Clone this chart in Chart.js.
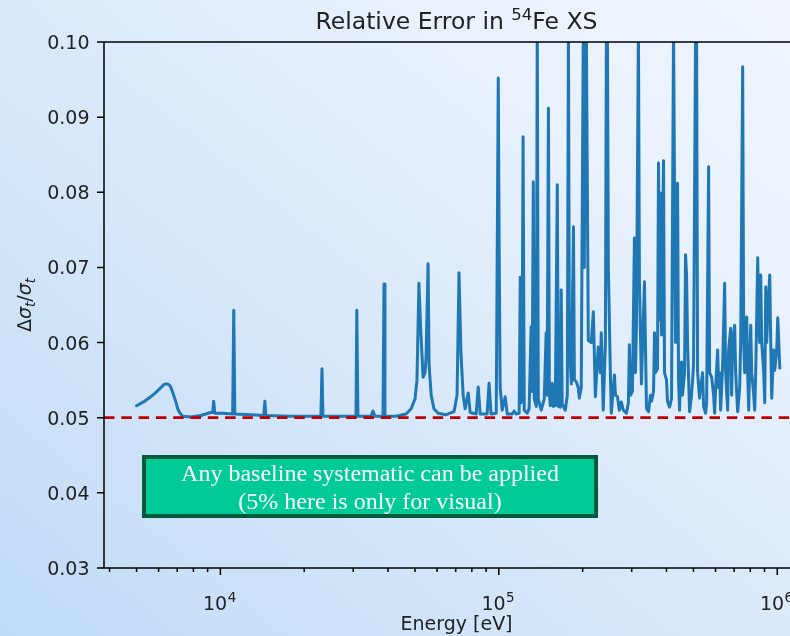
<!DOCTYPE html>
<html>
<head>
<meta charset="utf-8">
<script src="https://cdn.jsdelivr.net/npm/chart.js@4.4.1/dist/chart.umd.min.js"></script>
<style>
html,body{margin:0;padding:0;width:790px;height:636px;overflow:hidden;}
body{background:linear-gradient(to top right,#c1dbf6 0%,#d8e8fa 45%,#e8f1fc 75%,#f0f5fd 100%);}
#c{position:absolute;left:0;top:0;}
</style>
</head>
<body>
<canvas id="c" width="830" height="636" style="width:830px;height:636px"></canvas>
<script>
// ---- data (energy in eV, relative error of total cross section) ----
const energies = [
5000,5170,5300,5480,5620,5805,6000,6152,6255,6360,6466,6574,6630,6740,6910,7025,7140,7320,
7820,8500,9230,9390,9460,9550,10190,11070,11170,11270,12860,
14320,14450,14560,17910,22960,23170,23350,30690,30900,31190,34750,35320,35890,38370,38700,39000,42750,46450,48420,50000,
50820,51650,52480,53460,54330,54780,55720,56180,57150,58480,60530,64700,69050,70800,71940,73110,74470,75670,77620,78890,
82920,84330,85700,90780,92260,93760,97900,99540,100200,101100,102800,105400,107200,111700,113500,115300,118300,119400,120300,121300,
122200,123400,126500,128500,130600,131700,133000,134100,136300,137400,138600,142000,145600,147900,149100,150700,151900,153100,155600,156900,
159500,162200,163500,166200,167500,168900,173300,176200,177800,179200,182200,185400,186800,189700,192900,194500,197700,201100,202800,204500,
206200,209600,214800,218500,222200,227500,231400,233300,237100,241400,243400,245400,247400,251500,253500,260100,262300,266700,271000,275400,
279900,287300,292000,294400,296900,301900,306900,309500,312000,317200,319900,325200,333400,339100,344800,350500,353500,359400,362300,365300,
371400,374500,377600,380700,383900,390300,393600,400200,403500,410300,417100,424100,427600,431200,438400,442000,445700,449400,453100,456900,
464500,468400,472300,476200,484200,492200,500400,508900,513100,517400,526000,530400,539300,543800,552900,557500,566800,571500,581100,590700,
595700,600600,610700,615800,620900,626100,636500,647100,652500,663400,668900,680100,685800,691500,703000,708900,720700,732800,738900,751200,
757500,763800,776600,783000,789600,796100,802800,809400,823000,829800,836700,850700,857800,864900,872100,879300,894000,901500,909000,916500,
924200,939600,947400,955300,963200,971200,979300,995700,1004000,1021000
];
const relErr = [
0.0516,0.0519,0.0521,0.0525,0.0528,0.0532,0.0537,0.0541,0.0544,0.0545,0.0545,0.0543,0.0541,0.0534,0.0522,0.0512,0.0507,0.0502,
0.0501,0.0503,0.0507,0.0507,0.0522,0.0506,0.0506,0.0505,0.0643,0.0505,0.0504,
0.0503,0.0522,0.0503,0.0502,0.0502,0.0565,0.0502,0.0502,0.0643,0.0502,0.0502,0.0509,0.0502,0.0502,0.0678,0.0502,0.0502,0.0505,0.0512,0.0525,
0.0550,0.0679,0.0613,0.0554,0.0560,0.0580,0.0705,0.0570,0.0530,0.0512,0.0506,0.0504,0.0508,0.0530,0.0693,0.0586,0.0530,0.0512,0.0533,0.0507,
0.0505,0.0541,0.0505,0.0505,0.0546,0.0505,0.0506,0.0952,0.0743,0.0540,0.0510,0.0528,0.0505,0.0505,0.0509,0.0505,0.0506,0.0687,0.0520,0.0600,
0.0874,0.0510,0.0506,0.0512,0.0621,0.0535,0.0814,0.0525,0.0515,0.1020,0.0525,0.0510,0.0525,0.0613,0.0530,0.0912,0.0530,0.0516,0.0546,0.0515,
0.0516,0.0810,0.0515,0.0514,0.0670,0.0518,0.0510,0.0530,0.1020,0.0600,0.0545,0.0754,0.0550,0.0548,0.0540,0.0526,0.0540,0.1020,0.0700,0.1020,
0.1020,0.0603,0.0600,0.0641,0.0528,0.0594,0.0560,0.0613,0.0510,0.0600,0.1020,0.1020,0.0700,0.0560,0.0506,0.0557,0.0530,0.0528,0.0510,0.0521,
0.0510,0.0506,0.0520,0.0597,0.0530,0.0535,0.0739,0.0560,0.0620,0.1020,0.0680,0.0545,0.0681,0.0512,0.0508,0.0530,0.0522,0.0535,0.0613,0.0560,
0.0565,0.0839,0.0630,0.0799,0.0610,0.0842,0.0560,0.0550,0.0522,0.0514,0.0525,0.1020,0.0800,0.0600,0.0812,0.0550,0.0510,0.0560,0.0574,0.0530,
0.0560,0.0717,0.0690,0.0600,0.0508,0.0530,0.0570,0.1020,0.1020,0.0560,0.0526,0.0540,0.0560,0.0515,0.0506,0.0520,0.0834,0.0560,0.0554,0.0530,
0.0506,0.0540,0.0590,0.0540,0.0560,0.0510,0.0570,0.0679,0.0560,0.0510,0.0590,0.0619,0.0530,0.0600,0.0623,0.0560,0.0508,0.0540,0.0600,0.0967,
0.0600,0.0560,0.0634,0.0560,0.0510,0.0570,0.0623,0.0560,0.0530,0.0510,0.0560,0.0713,0.0620,0.0600,0.0690,0.0600,0.0560,0.0520,0.0674,0.0600,
0.0640,0.0690,0.0600,0.0526,0.0560,0.0590,0.0563,0.0590,0.0633,0.0566
];
const baselineE = [3820, 1300000];
const baselineVal = [0.05, 0.05];
const xMin = 3820, xMax = 1300000;
const yMin = 0.03, yMax = 0.10;
const xMajorTicks = [1e4, 1e5, 1e6];
const xMajorExp = ['4', '5', '6'];
const xMinorTicks = [4000,5000,6000,7000,8000,9000,20000,30000,40000,50000,60000,70000,80000,90000,200000,300000,400000,500000,600000,700000,800000,900000];
const yTicks = [0.03,0.04,0.05,0.06,0.07,0.08,0.09,0.10];
const yTickLabels = ['0.03','0.04','0.05','0.06','0.07','0.08','0.09','0.10'];
const titleParts = ['Relative Error in ', '54', 'Fe XS'];
const xLabel = 'Energy [eV]';
const boxLines = ['Any baseline systematic can be applied', '(5% here is only for visual)'];

const FONT = '"DejaVu Sans", sans-serif';
const TXT = '#222222';

const decor = {
  id: 'decor',
  afterDraw(chart) {
    const ctx = chart.ctx;
    const xs = chart.scales.x, ys = chart.scales.y;
    const a = chart.chartArea;
    ctx.save();
    // spines
    ctx.strokeStyle = '#000';
    ctx.lineWidth = 1.5;
    ctx.beginPath();
    ctx.moveTo(a.left, a.top); ctx.lineTo(a.right, a.top);
    ctx.moveTo(a.left, a.bottom); ctx.lineTo(a.right, a.bottom);
    ctx.moveTo(a.left, a.top); ctx.lineTo(a.left, a.bottom);
    ctx.moveTo(a.right, a.top); ctx.lineTo(a.right, a.bottom);
    ctx.stroke();
    // ticks
    ctx.beginPath();
    xMajorTicks.forEach(v => { const p = xs.getPixelForValue(v); ctx.moveTo(p, a.bottom); ctx.lineTo(p, a.bottom + 7); });
    xMinorTicks.forEach(v => { if (v < xMin || v > xMax) return; const p = xs.getPixelForValue(v); ctx.moveTo(p, a.bottom); ctx.lineTo(p, a.bottom + 4); });
    yTicks.forEach(v => { const p = ys.getPixelForValue(v); ctx.moveTo(a.left, p); ctx.lineTo(a.left - 7, p); });
    ctx.stroke();
    // x tick labels 10^n
    ctx.fillStyle = TXT;
    ctx.textBaseline = 'alphabetic';
    xMajorTicks.forEach((v, i) => {
      const p = xs.getPixelForValue(v);
      ctx.font = '19px ' + FONT;
      const w1 = ctx.measureText('10').width;
      ctx.font = '13.5px ' + FONT;
      const w2 = ctx.measureText(xMajorExp[i]).width;
      const x0 = p - (w1 + w2) / 2 - 1;
      ctx.textAlign = 'left';
      ctx.font = '19px ' + FONT;
      ctx.fillText('10', x0, 610);
      ctx.font = '13.5px ' + FONT;
      ctx.fillText(xMajorExp[i], x0 + w1 + 0.5, 602);
    });
    // y tick labels
    ctx.font = '19px ' + FONT;
    ctx.textAlign = 'right';
    yTicks.forEach((v, i) => {
      const p = ys.getPixelForValue(v);
      ctx.fillText(yTickLabels[i], 89.5, p + 7);
    });
    // x label
    ctx.textAlign = 'center';
    ctx.fillText(xLabel, (a.left + a.right) / 2, 630);
    // title
    ctx.textAlign = 'left';
    ctx.font = '23.5px ' + FONT;
    const t1 = ctx.measureText(titleParts[0]).width;
    const t3 = ctx.measureText(titleParts[2]).width;
    ctx.font = '16.5px ' + FONT;
    const t2 = ctx.measureText(titleParts[1]).width;
    let tx = (a.left + a.right) / 2 - (t1 + t2 + t3) / 2;
    ctx.font = '23.5px ' + FONT;
    ctx.fillText(titleParts[0], tx, 29);
    ctx.font = '16.5px ' + FONT;
    ctx.fillText(titleParts[1], tx + t1, 20);
    ctx.font = '23.5px ' + FONT;
    ctx.fillText(titleParts[2], tx + t1 + t2, 29);
    // y label  Δσ_t/σ_t (rotated)
    ctx.save();
    ctx.translate(31, (a.top + a.bottom) / 2);
    ctx.rotate(-Math.PI / 2);
    const parts = [
      ['Δ', '19px ' + FONT, 0],
      ['σ', 'italic 19px ' + FONT, 0],
      ['t', 'italic 13.5px ' + FONT, 4],
      ['/', '19px ' + FONT, 0],
      ['σ', 'italic 19px ' + FONT, 0],
      ['t', 'italic 13.5px ' + FONT, 4]
    ];
    let tw = 0;
    parts.forEach(pt => { ctx.font = pt[1]; tw += ctx.measureText(pt[0]).width; });
    let px = -tw / 2;
    ctx.textAlign = 'left';
    parts.forEach(pt => { ctx.font = pt[1]; ctx.fillText(pt[0], px, pt[2]); px += ctx.measureText(pt[0]).width; });
    ctx.restore();
    // annotation box
    const bx = 142, by = 455, bw = 456, bh = 63;
    ctx.fillStyle = '#00cb97';
    ctx.fillRect(bx, by, bw, bh);
    ctx.strokeStyle = '#005b3e';
    ctx.lineWidth = 4;
    ctx.strokeRect(bx + 2, by + 2, bw - 4, bh - 4);
    ctx.fillStyle = '#ffffff';
    ctx.font = '24px "Liberation Serif", "Times New Roman", serif';
    ctx.textAlign = 'center';
    ctx.fillText(boxLines[0], bx + bw / 2, 481);
    ctx.fillText(boxLines[1], bx + bw / 2, 509);
    ctx.restore();
  }
};

new Chart(document.getElementById('c').getContext('2d'), {
  type: 'line',
  data: {
    datasets: [
      { label: 'baseline', data: baselineE.map((e, i) => ({x: e, y: baselineVal[i]})),
        borderColor: '#c00000', borderWidth: 2.8, borderDash: [10.5, 6.8], pointRadius: 0, fill: false, clip: 0, order: 0 },
      { label: 'relErr', data: energies.map((e, i) => ({x: e, y: relErr[i]})),
        borderColor: '#1f77b4', borderWidth: 3, pointRadius: 0, tension: 0, fill: false, clip: 0, order: 1,
        borderJoinStyle: 'round', borderCapStyle: 'round' }
    ]
  },
  options: {
    responsive: false, animation: false, devicePixelRatio: 1,
    layout: { padding: { left: 0, right: 21, top: 42, bottom: 0 } },
    plugins: { legend: { display: false }, tooltip: { enabled: false }, title: { display: false } },
    scales: {
      x: { type: 'logarithmic', min: xMin, max: xMax, ticks: { display: false }, grid: { display: false }, border: { display: false },
           afterFit: s => { s.height = 68; } },
      y: { type: 'linear', min: yMin, max: yMax, ticks: { display: false }, grid: { display: false }, border: { display: false },
           afterFit: s => { s.width = 104; } }
    }
  },
  plugins: [decor]
});
</script>
</body>
</html>
